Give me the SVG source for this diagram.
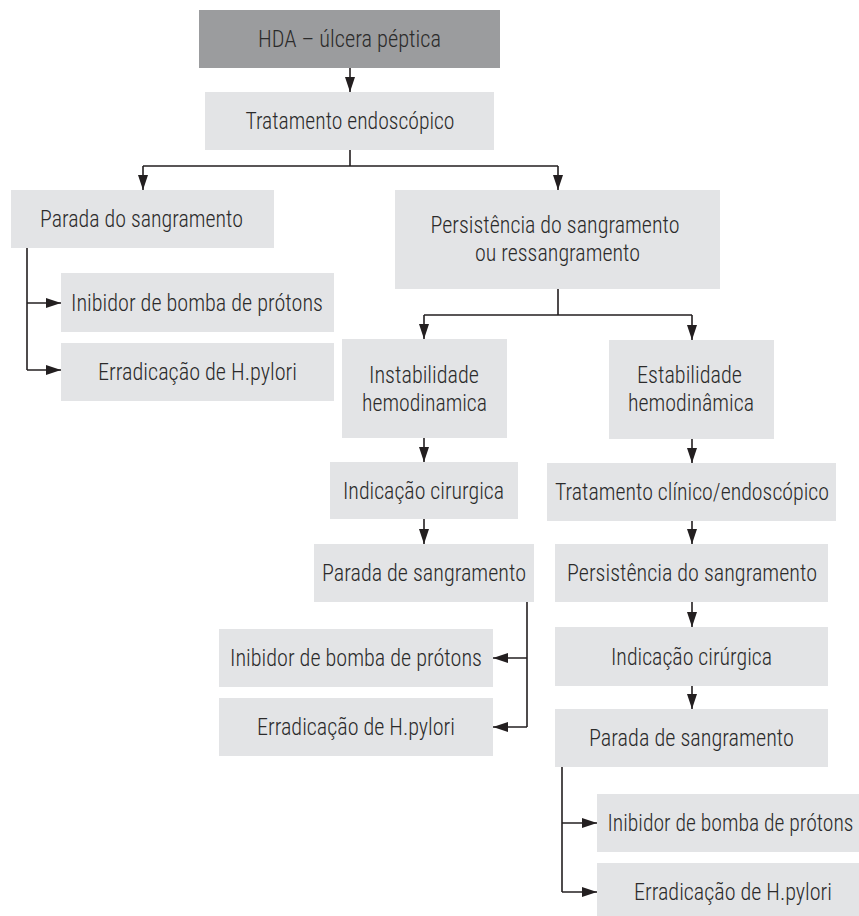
<svg xmlns="http://www.w3.org/2000/svg" width="859" height="916" viewBox="0 0 859 916">
<style>
  .box { fill: #e3e4e6; }
  .dark { fill: #9b9c9e; }
  text { font-family: "Liberation Sans Narrow", "Roboto Condensed", Roboto, "Liberation Sans", Arial, sans-serif; font-size: 23px; font-weight: 300; fill: #2b2b2b; text-anchor: middle; }
  .conn path { fill: none; stroke: #231f20; stroke-width: 1.6; }
</style>
<defs>
  <marker id="ah" markerUnits="userSpaceOnUse" markerWidth="15" markerHeight="10" refX="15" refY="5" orient="auto">
    <path d="M0,0 L15,5 L0,10 z" fill="#231f20"/>
  </marker>
</defs>
<rect width="859" height="916" fill="#ffffff"/>

<g id="n-hda"><rect class="dark" x="199" y="10" width="301" height="58"/><text x="349.5" y="47" textLength="183" lengthAdjust="spacingAndGlyphs">HDA – úlcera péptica</text></g>
<g id="n-trat-endo"><rect class="box" x="205" y="92" width="289" height="58"/><text x="350" y="129" textLength="209" lengthAdjust="spacingAndGlyphs">Tratamento endoscópico</text></g>
<g id="n-parada-do"><rect class="box" x="11" y="190" width="263" height="58"/><text x="141.5" y="227" textLength="203" lengthAdjust="spacingAndGlyphs">Parada do sangramento</text></g>
<g id="n-ibp-l"><rect class="box" x="61" y="273" width="273" height="59"/><text x="197" y="310.5" textLength="252" lengthAdjust="spacingAndGlyphs">Inibidor de bomba de prótons</text></g>
<g id="n-erra-l"><rect class="box" x="61" y="343" width="273" height="58"/><text x="197.5" y="380" textLength="199" lengthAdjust="spacingAndGlyphs">Erradicação de H.pylori</text></g>
<g id="n-persist"><rect class="box" x="395" y="190" width="325" height="99"/><text x="555" y="233" textLength="249" lengthAdjust="spacingAndGlyphs">Persistência do sangramento</text><text x="557.5" y="261" textLength="165" lengthAdjust="spacingAndGlyphs">ou ressangramento</text></g>
<g id="n-instab"><rect class="box" x="342" y="339" width="165" height="99"/><text x="424" y="382.5" textLength="110" lengthAdjust="spacingAndGlyphs">Instabilidade</text><text x="424.5" y="410.5" textLength="125" lengthAdjust="spacingAndGlyphs">hemodinamica</text></g>
<g id="n-estab"><rect class="box" x="609" y="340" width="165" height="99"/><text x="689.5" y="383" textLength="105" lengthAdjust="spacingAndGlyphs">Estabilidade</text><text x="691" y="411" textLength="126" lengthAdjust="spacingAndGlyphs">hemodinâmica</text></g>
<g id="n-indic-m"><rect class="box" x="330" y="462" width="188" height="57"/><text x="423.5" y="498.5" textLength="161" lengthAdjust="spacingAndGlyphs">Indicação cirurgica</text></g>
<g id="n-parada-m"><rect class="box" x="314" y="544" width="220" height="58"/><text x="424" y="581" textLength="204" lengthAdjust="spacingAndGlyphs">Parada de sangramento</text></g>
<g id="n-ibp-m"><rect class="box" x="219" y="629" width="274" height="58"/><text x="356" y="666" textLength="252" lengthAdjust="spacingAndGlyphs">Inibidor de bomba de prótons</text></g>
<g id="n-erra-m"><rect class="box" x="219" y="698" width="274" height="58"/><text x="356" y="735" textLength="198" lengthAdjust="spacingAndGlyphs">Erradicação de H.pylori</text></g>
<g id="n-trat-clin"><rect class="box" x="547" y="463" width="289" height="58"/><text x="692" y="500" textLength="274" lengthAdjust="spacingAndGlyphs">Tratamento clínico/endoscópico</text></g>
<g id="n-persist-r"><rect class="box" x="555" y="544" width="273" height="58"/><text x="692" y="581" textLength="250" lengthAdjust="spacingAndGlyphs">Persistência do sangramento</text></g>
<g id="n-indic-r"><rect class="box" x="555" y="627" width="273" height="59"/><text x="691.5" y="664.5" textLength="161" lengthAdjust="spacingAndGlyphs">Indicação cirúrgica</text></g>
<g id="n-parada-r"><rect class="box" x="555" y="709" width="273" height="58"/><text x="691.5" y="746" textLength="205" lengthAdjust="spacingAndGlyphs">Parada de sangramento</text></g>
<g id="n-ibp-r"><rect class="box" x="597" y="794" width="262" height="58"/><text transform="translate(730.5,831) scale(1,1.15)" x="0" y="0" style="font-size:20px" textLength="246" lengthAdjust="spacingAndGlyphs">Inibidor de bomba de prótons</text></g>
<g id="n-erra-r"><rect class="box" x="597" y="863" width="262" height="58"/><text x="733" y="900" textLength="198" lengthAdjust="spacingAndGlyphs">Erradicação de H.pylori</text></g>

<g id="connectors" class="conn">
  <path d="M350,68 V92" marker-end="url(#ah)"/>
  <path d="M350,150 V166 M143,166 H558"/>
  <path d="M143,166 V190" marker-end="url(#ah)"/>
  <path d="M558,166 V190" marker-end="url(#ah)"/>
  <path d="M27,248 V370"/>
  <path d="M27,303 H61" marker-end="url(#ah)"/>
  <path d="M27,370 H61" marker-end="url(#ah)"/>
  <path d="M558,289 V315 M424,315 H692"/>
  <path d="M424,315 V339" marker-end="url(#ah)"/>
  <path d="M692,315 V340" marker-end="url(#ah)"/>
  <path d="M424,438 V462" marker-end="url(#ah)"/>
  <path d="M424,519 V544" marker-end="url(#ah)"/>
  <path d="M527,602 V727"/>
  <path d="M527,658 H493" marker-end="url(#ah)"/>
  <path d="M527,727 H493" marker-end="url(#ah)"/>
  <path d="M692,439 V463" marker-end="url(#ah)"/>
  <path d="M692,521 V544" marker-end="url(#ah)"/>
  <path d="M692,602 V627" marker-end="url(#ah)"/>
  <path d="M692,686 V709" marker-end="url(#ah)"/>
  <path d="M562,767 V892"/>
  <path d="M562,823 H597" marker-end="url(#ah)"/>
  <path d="M562,892 H597" marker-end="url(#ah)"/>
</g>
</svg>
